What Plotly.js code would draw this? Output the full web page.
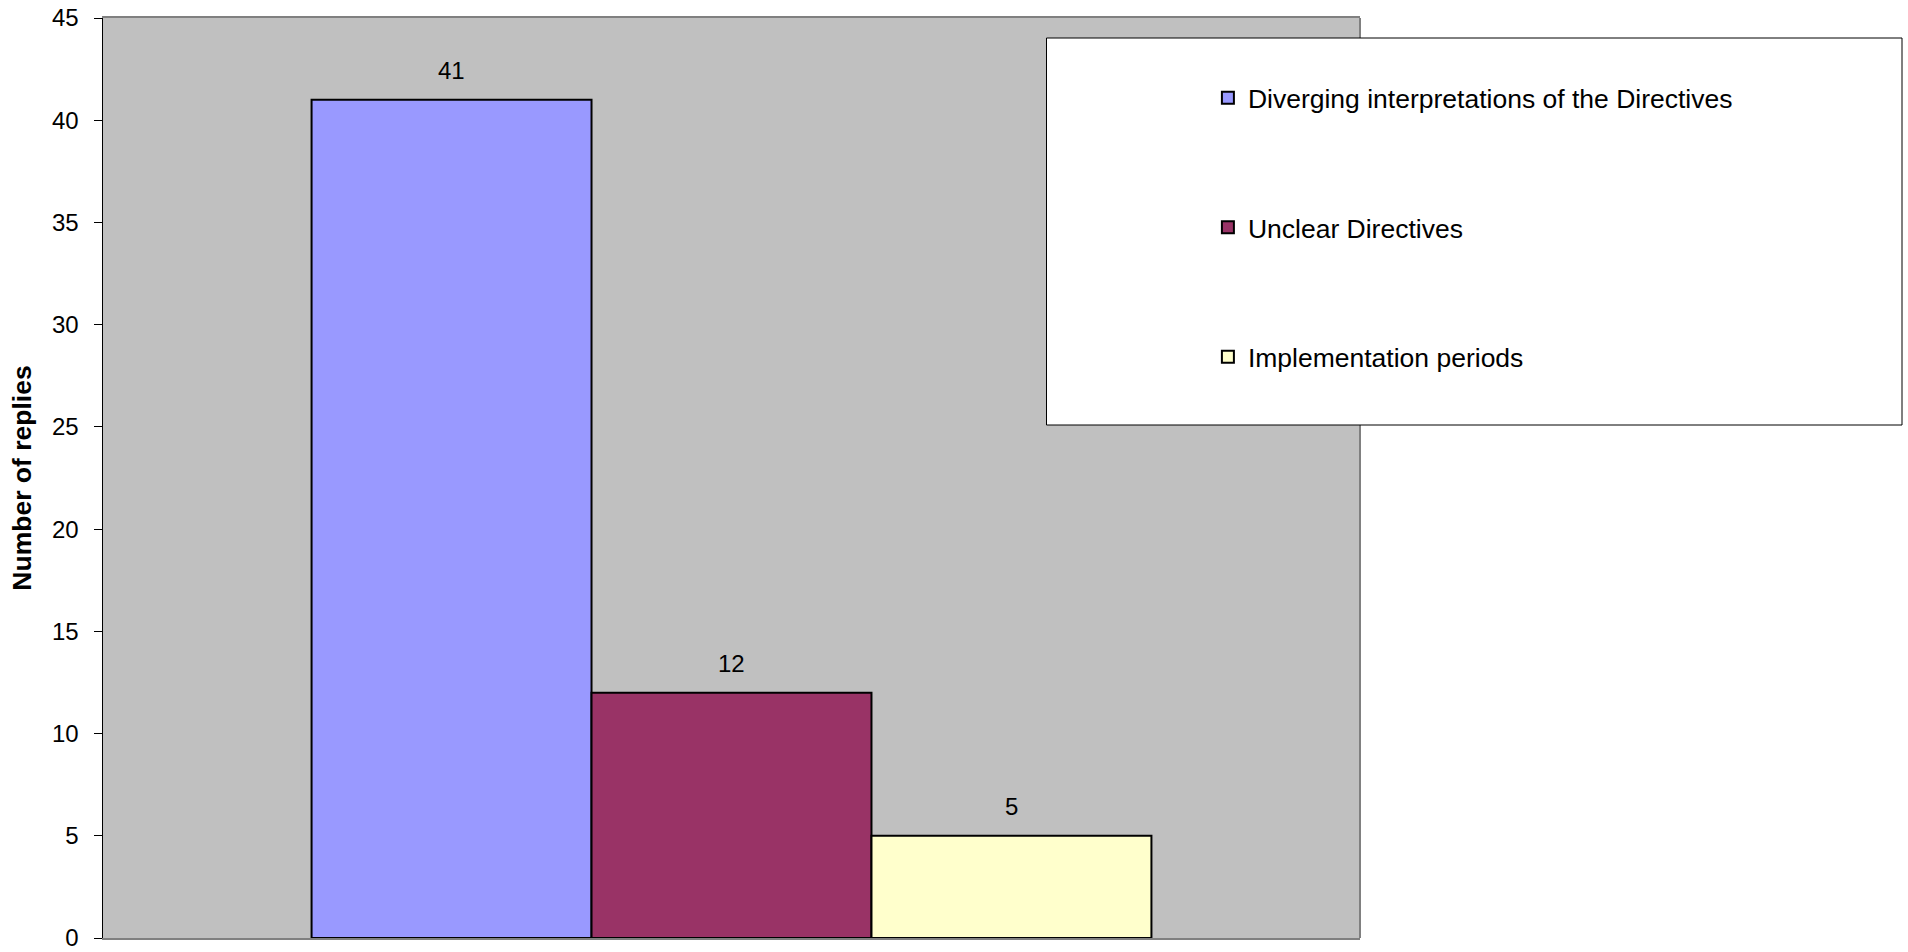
<!DOCTYPE html>
<html>
<head>
<meta charset="utf-8">
<script src="https://cdn.plot.ly/plotly-3.0.1.min.js"></script>
<style>html,body{margin:0;padding:0;background:#fff;}#chart{width:1908px;height:952px;}</style>
</head>
<body>
<div id="chart"></div>
<script>
const seriesNames = ["Diverging interpretations of the Directives", "Unclear Directives", "Implementation periods"];
const seriesValues = [41, 12, 5];
const seriesColors = ["#9999FF", "#993366", "#FFFFCC"];
const yTickValues = [0, 5, 10, 15, 20, 25, 30, 35, 40, 45];

const FONT = "Liberation Sans, Arial, sans-serif";

const traces = seriesNames.map((name, i) => ({
  type: "bar",
  name: name,
  x: [name],
  y: [seriesValues[i]],
  legendgroup: "g" + i,
  marker: {color: seriesColors[i], line: {color: "#000000", width: 2}},
  hoverinfo: "none"
}));

const annotations = seriesNames.map((name, i) => ({
  xref: "x", yref: "y",
  x: name, y: seriesValues[i],
  text: String(seriesValues[i]),
  showarrow: false,
  yanchor: "bottom",
  yshift: 14,
  font: {family: FONT, size: 24, color: "#000"}
}));

const layout = {
  width: 1908,
  height: 952,
  margin: {l: 103, r: 548, t: 18, b: 14, pad: 0},
  paper_bgcolor: "#ffffff",
  plot_bgcolor: "#C0C0C0",
  font: {family: FONT, size: 24, color: "#000"},
  barmode: "overlay",
  bargap: 0,
  showlegend: true,
  legend: {
    x: 0.879, xanchor: "left",
    y: 0.939, yanchor: "top",
    bgcolor: "rgba(0,0,0,0)",
    borderwidth: 0,
    traceorder: "grouped",
    tracegroupgap: 92,
    font: {family: FONT, size: 26.5, color: "#000"}
  },
  xaxis: {
    type: "category",
    range: [-1.245, 3.245],
    showticklabels: false,
    ticks: "",
    showgrid: false,
    zeroline: false,
    showline: true,
    linecolor: "#808080",
    linewidth: 2,
    mirror: true
  },
  yaxis: {
    range: [0, 45],
    tickvals: yTickValues,
    ticktext: yTickValues.map(String),
    ticks: "outside",
    ticklen: 8,
    tickwidth: 1,
    tickcolor: "#000",
    ticklabelstandoff: 10,
    ticklabeloverflow: "allow",
    showgrid: false,
    zeroline: false,
    showline: true,
    linecolor: "#000000",
    linewidth: 1.5,
    mirror: false,
    tickfont: {family: FONT, size: 24},
    title: {text: "Number of replies", font: {size: 26.5, family: FONT, weight: "bold"}, standoff: 12}
  },
  annotations: annotations,
  shapes: [
    {
      type: "line", xref: "paper", yref: "paper",
      x0: 1, x1: 1, y0: 0, y1: 1,
      line: {color: "#808080", width: 2},
      layer: "above"
    },
    {
      type: "rect", xref: "paper", yref: "paper",
      x0: (1046.5 - 103) / 1257, x1: (1902 - 103) / 1257,
      y0: (938 - 425) / 920, y1: (938 - 38) / 920,
      fillcolor: "#ffffff",
      line: {color: "#000000", width: 1},
      layer: "above"
    }
  ]
};

Plotly.newPlot("chart", traces, layout, {displayModeBar: false, staticPlot: true});
</script>
</body>
</html>
